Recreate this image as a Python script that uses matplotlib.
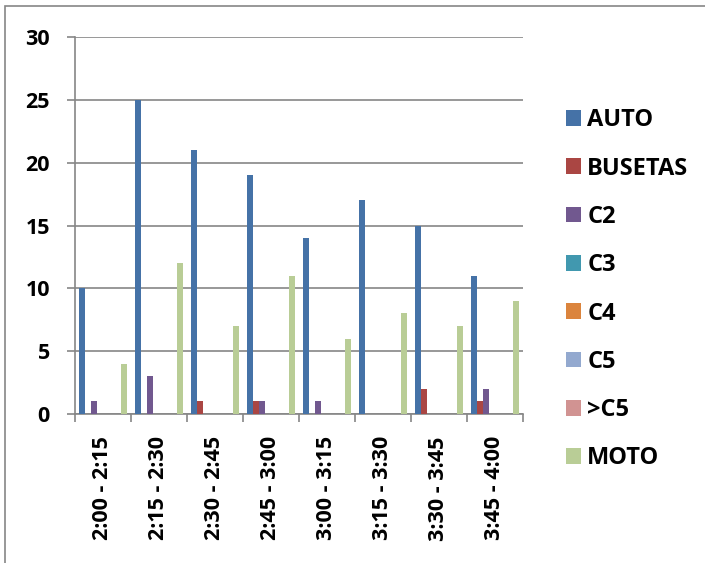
import matplotlib
matplotlib.use("Agg")
import matplotlib.pyplot as plt
import numpy as np
from matplotlib.patches import Rectangle

categories = ["2:00 - 2:15", "2:15 - 2:30", "2:30 - 2:45", "2:45 - 3:00",
              "3:00 - 3:15", "3:15 - 3:30", "3:30 - 3:45", "3:45 - 4:00"]
series_names = ["AUTO", "BUSETAS", "C2", "C3", "C4", "C5", ">C5", "MOTO"]
auto = [10, 25, 21, 19, 14, 17, 15, 11]
busetas = [0, 0, 1, 1, 0, 0, 2, 1]
c2 = [1, 3, 0, 1, 1, 0, 0, 2]
c3 = [0, 0, 0, 0, 0, 0, 0, 0]
c4 = [0, 0, 0, 0, 0, 0, 0, 0]
c5 = [0, 0, 0, 0, 0, 0, 0, 0]
gt_c5 = [0, 0, 0, 0, 0, 0, 0, 0]
moto = [4, 12, 7, 11, 6, 8, 7, 9]
series_values = [auto, busetas, c2, c3, c4, c5, gt_c5, moto]
colors = ["#4572A7", "#AA4643", "#71588F", "#4198AF", "#DB843D", "#93A9CF", "#D19392", "#B9CD96"]

FS = 15.5
LFS = 17
plt.rcParams['font.family'] = ['Open Sans', 'DejaVu Sans']
fig = plt.figure(figsize=(7.05, 5.63), dpi=100)
ax = fig.add_axes([75/705, 1-414/563, 448/705, (414-37)/563])

n = len(series_names)
gap = 1.5
w = 1.0 / (n + gap)
x = np.arange(len(categories))
for i, (name, vals, c) in enumerate(zip(series_names, series_values, colors)):
    offs = -0.5 + gap * w / 2 + (i + 0.5) * w
    ax.bar(x + offs, vals, width=w, color=c, label=name, zorder=3)

ax.set_xlim(-0.5, len(categories) - 0.5)
ax.set_ylim(0, 30)
ax.set_yticks(range(0, 31, 5))
ax.yaxis.grid(True, color="#868686", linewidth=1.2, zorder=0)
ax.set_xticks(np.arange(-0.5, len(categories), 1.0), minor=False)
ax.set_xticklabels([])
ax.set_xticks(x, minor=True)
ax.set_xticklabels(categories, minor=True, rotation=90, fontsize=FS, fontweight='bold')
ax.tick_params(axis='x', which='minor', length=0, pad=16)
ax.tick_params(axis='x', which='major', length=6, color="#868686", width=1.2)
ax.tick_params(axis='y', length=6, color="#868686", width=1.2, labelsize=FS, pad=12)
for lab in ax.get_yticklabels():
    lab.set_fontweight('bold')
for s in ["top", "right"]:
    ax.spines[s].set_visible(False)
for s in ["left", "bottom"]:
    ax.spines[s].set_color("#868686")
    ax.spines[s].set_linewidth(1.2)

handles, labels = ax.get_legend_handles_labels()
leg = fig.legend(handles, labels, loc="upper left", bbox_to_anchor=(545/705, 1-87/563),
                 frameon=False, prop={'size': LFS, 'weight': 'bold'},
                 handlelength=0.64, handleheight=0.64, labelspacing=1.03, handletextpad=0.25)

fig.patches.append(Rectangle((5/705, -0.1), 1.2, (1-6/563) + 0.1, transform=fig.transFigure,
                             fill=False, edgecolor="#868686", linewidth=1.2))

fig.savefig("out.png", dpi=100)
